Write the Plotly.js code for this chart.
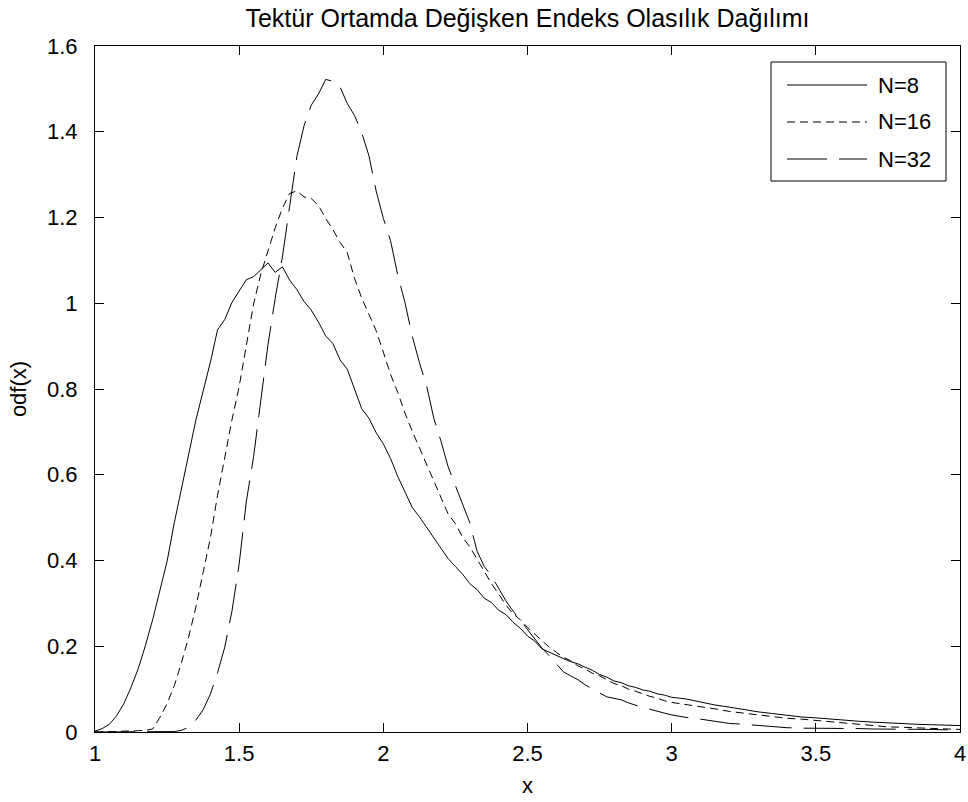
<!DOCTYPE html>
<html>
<head>
<meta charset="utf-8">
<script src="https://cdn.plot.ly/plotly-3.0.1.min.js"></script>
<style>
  html, body { margin: 0; padding: 0; background: #ffffff; }
  #chart { width: 968px; height: 802px; }
</style>
</head>
<body>
<div id="chart"></div>
<script>
// Sample points of x (fine steps up to 3, coarser in the tail)
const xGrid = [
  1.000, 1.025, 1.050, 1.075, 1.100, 1.125, 1.150, 1.175, 1.200, 1.225,
  1.250, 1.275, 1.300, 1.325, 1.350, 1.375, 1.400, 1.425, 1.450, 1.475,
  1.500, 1.525, 1.550, 1.575, 1.600, 1.625, 1.650, 1.675, 1.700, 1.725,
  1.750, 1.775, 1.800, 1.825, 1.850, 1.875, 1.900, 1.925, 1.950, 1.975,
  2.000, 2.025, 2.050, 2.075, 2.100, 2.125, 2.150, 2.175, 2.200, 2.225,
  2.250, 2.275, 2.300, 2.325, 2.350, 2.375, 2.400, 2.425, 2.450, 2.475,
  2.500, 2.525, 2.550, 2.575, 2.600, 2.625, 2.650, 2.675, 2.700, 2.725,
  2.750, 2.775, 2.800, 2.825, 2.850, 2.875, 2.900, 2.925, 2.950, 2.975,
  3.000,
  3.05, 3.10, 3.15, 3.20, 3.25, 3.30, 3.35, 3.40, 3.45, 3.50,
  3.55, 3.60, 3.65, 3.70, 3.75, 3.80, 3.85, 3.90, 3.95, 4.00
];

// Estimated probability density, N = 8
const pdfN8 = [
  0.002, 0.008, 0.018, 0.038, 0.066, 0.104, 0.148, 0.202, 0.262, 0.332,
  0.398, 0.488, 0.572, 0.648, 0.728, 0.796, 0.862, 0.938, 0.962, 1.002,
  1.028, 1.055, 1.062, 1.078, 1.094, 1.072, 1.085, 1.054, 1.032, 1.004,
  0.984, 0.956, 0.924, 0.906, 0.868, 0.846, 0.802, 0.754, 0.732, 0.698,
  0.672, 0.638, 0.596, 0.558, 0.524, 0.502, 0.478, 0.452, 0.428, 0.404,
  0.386, 0.368, 0.346, 0.332, 0.312, 0.302, 0.284, 0.274, 0.256, 0.242,
  0.224, 0.212, 0.194, 0.186, 0.178, 0.171, 0.164, 0.159, 0.151, 0.144,
  0.134, 0.128, 0.119, 0.115, 0.108, 0.104, 0.098, 0.095, 0.089, 0.086,
  0.081,
  0.077, 0.070, 0.063, 0.058, 0.052, 0.047, 0.043, 0.039, 0.035, 0.033,
  0.030, 0.027, 0.025, 0.023, 0.021, 0.019, 0.018, 0.017, 0.016, 0.015
];

// Estimated probability density, N = 16
const pdfN16 = [
  0.000, 0.000, 0.001, 0.001, 0.002, 0.002, 0.003, 0.004, 0.007, 0.034,
  0.066, 0.108, 0.162, 0.222, 0.292, 0.372, 0.452, 0.552, 0.642, 0.728,
  0.806, 0.902, 0.998, 1.068, 1.122, 1.176, 1.222, 1.256, 1.262, 1.248,
  1.244, 1.228, 1.198, 1.172, 1.142, 1.118, 1.058, 1.012, 0.974, 0.936,
  0.886, 0.834, 0.792, 0.744, 0.702, 0.664, 0.622, 0.584, 0.546, 0.508,
  0.486, 0.454, 0.432, 0.404, 0.376, 0.346, 0.322, 0.296, 0.276, 0.262,
  0.244, 0.229, 0.212, 0.198, 0.186, 0.174, 0.166, 0.154, 0.147, 0.137,
  0.131, 0.121, 0.113, 0.108, 0.100, 0.095, 0.089, 0.083, 0.079, 0.073,
  0.069,
  0.064, 0.060, 0.054, 0.048, 0.044, 0.040, 0.035, 0.032, 0.030, 0.027,
  0.023, 0.020, 0.017, 0.014, 0.012, 0.011, 0.010, 0.009, 0.007, 0.006
];

// Estimated probability density, N = 32
const pdfN32 = [
  0.000, 0.000, 0.000, 0.000, 0.000, 0.000, 0.000, 0.000, 0.000, 0.000,
  0.000, 0.001, 0.004, 0.011, 0.028, 0.052, 0.088, 0.138, 0.198, 0.282,
  0.392, 0.538, 0.642, 0.772, 0.904, 1.012, 1.108, 1.226, 1.342, 1.414,
  1.462, 1.488, 1.522, 1.518, 1.504, 1.466, 1.438, 1.398, 1.344, 1.262,
  1.198, 1.146, 1.066, 1.002, 0.924, 0.862, 0.808, 0.732, 0.678, 0.618,
  0.574, 0.528, 0.488, 0.422, 0.386, 0.364, 0.336, 0.306, 0.282, 0.260,
  0.238, 0.216, 0.196, 0.178, 0.160, 0.140, 0.131, 0.122, 0.110, 0.100,
  0.091, 0.082, 0.078, 0.075, 0.068, 0.062, 0.057, 0.053, 0.048, 0.044,
  0.040,
  0.034, 0.030, 0.025, 0.020, 0.018, 0.015, 0.012, 0.010, 0.009, 0.009,
  0.008, 0.008, 0.008, 0.007, 0.007, 0.007, 0.006, 0.006, 0.005, 0.005
];

const seriesNames = ['N=8', 'N=16', 'N=32'];
const xTicks = [1, 1.5, 2, 2.5, 3, 3.5, 4];
const yTicks = [0, 0.2, 0.4, 0.6, 0.8, 1, 1.2, 1.4, 1.6];

const chartTitle = 'Tektür Ortamda Değişken Endeks Olasılık Dağılımı';
const xLabel = 'x';
const yLabel = 'odf(x)';

// Line styles for the three curves
const dashes = ['solid', '8px,5px', '40px,12px'];
const seriesY = [pdfN8, pdfN16, pdfN32];

const W = 968, H = 802;
const M = { l: 95, r: 8, t: 46, b: 70 };
const plotW = W - M.l - M.r, plotH = H - M.t - M.b;
const FONT = '"Liberation Sans", Arial, Helvetica, sans-serif';

// pixel -> paper helpers for the legend box
const px = v => (v - M.l) / plotW;
const py = v => (H - M.b - v) / plotH;

const traces = seriesY.map((ys, i) => ({
  type: 'scatter',
  mode: 'lines',
  x: xGrid,
  y: ys,
  name: seriesNames[i],
  showlegend: false,
  line: { color: '#000000', width: 1, dash: dashes[i] },
  hoverinfo: 'x+y+name'
}));

// Boxed legend in the upper right corner
const legBox = { x0: 771, x1: 946, y0: 62, y1: 181 };
const legRows = [85, 122, 159];
const legLine = { x0: 787, x1: 867 };
const legTextX = 876;

const shapes = [{
  type: 'rect', xref: 'paper', yref: 'paper', layer: 'above',
  x0: px(legBox.x0), x1: px(legBox.x1), y0: py(legBox.y1), y1: py(legBox.y0),
  line: { color: '#000000', width: 1 }, fillcolor: '#ffffff'
}];
const annotations = [];
seriesNames.forEach((name, i) => {
  shapes.push({
    type: 'line', xref: 'paper', yref: 'paper', layer: 'above',
    x0: px(legLine.x0), x1: px(legLine.x1), y0: py(legRows[i]), y1: py(legRows[i]),
    line: { color: '#000000', width: 1, dash: dashes[i] }
  });
  annotations.push({
    xref: 'paper', yref: 'paper', x: px(legTextX), y: py(legRows[i]),
    xanchor: 'left', yanchor: 'middle', showarrow: false,
    text: name, font: { family: FONT, size: 22, color: '#000000' }
  });
});

const axisCommon = {
  ticks: 'inside', ticklen: 9, tickwidth: 1, tickcolor: '#000000',
  mirror: 'ticks', showline: true, linecolor: '#000000', linewidth: 1,
  showgrid: false, zeroline: false,
  tickfont: { family: FONT, size: 22, color: '#000000' }
};

const layout = {
  width: W, height: H,
  margin: M,
  paper_bgcolor: '#ffffff', plot_bgcolor: '#ffffff',
  font: { family: FONT, color: '#000000' },
  title: {
    text: chartTitle, xref: 'paper', x: 0.5, xanchor: 'center',
    yref: 'container', y: 1 - 18 / H, yanchor: 'middle',
    font: { family: FONT, size: 25, color: '#000000' }
  },
  xaxis: Object.assign({}, axisCommon, {
    range: [1, 4], tickvals: xTicks, ticklabelstandoff: 2,
    title: { text: xLabel, standoff: 12, font: { family: FONT, size: 22, color: '#000000' } }
  }),
  yaxis: Object.assign({}, axisCommon, {
    range: [0, 1.6], tickvals: yTicks, ticklabelstandoff: 12,
    title: { text: yLabel, standoff: 14, font: { family: FONT, size: 22, color: '#000000' } }
  }),
  shapes: shapes,
  annotations: annotations,
  showlegend: false
};

Plotly.newPlot('chart', traces, layout, { displayModeBar: false, staticPlot: true });
</script>
</body>
</html>
